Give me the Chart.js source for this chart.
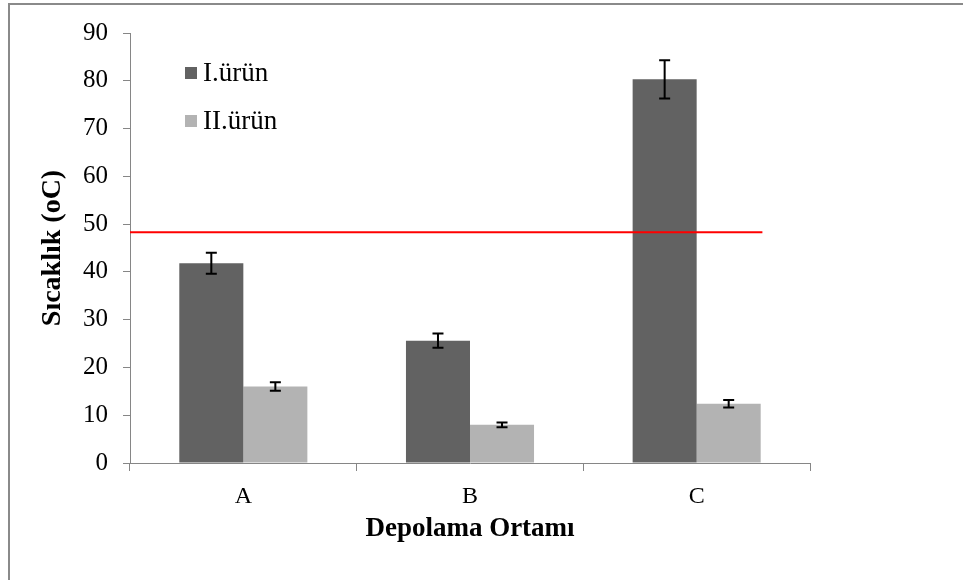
<!DOCTYPE html>
<html>
<head>
<meta charset="utf-8">
<script src="https://cdn.jsdelivr.net/npm/chart.js@4.4.1/dist/chart.umd.min.js"></script>
<style>
    body { margin: 0; background: #fff; }
    #wrap { position: relative; width: 963px; height: 580px; }
    #frame {
        position: absolute; left: 8px; top: 3px; right: 0; bottom: 0;
        border-left: 2px solid #8a8a8a; border-top: 2px solid #8a8a8a;
        pointer-events: none;
    }
</style>
</head>
<body>
<div id="wrap">
    <canvas id="barChart" width="963" height="580"></canvas>
    <div id="frame"></div>
</div>
<script>
// Data
const categories = ['A', 'B', 'C'];
const urun1 = [41.8, 25.6, 80.3];
const urun1Err = [2.2, 1.5, 4.0];
const urun2 = [16.0, 8.0, 12.4];
const urun2Err = [0.9, 0.5, 0.8];
const limitValue = 48.3;          // red reference line
const limitSpan = [-0.5, 2.29];   // in category index units
const yTicks = [0, 10, 20, 30, 40, 50, 60, 70, 80, 90];

const serif = "'Liberation Serif', 'Times New Roman', serif";
const axisGrey = '#868686';

// Red limit line, positioned through the x and y scales
const limitLine = {
    id: 'limitLine',
    afterDatasetsDraw(chart) {
        const ctx = chart.ctx;
        const x = chart.scales.x;
        const yy = chart.scales.y.getPixelForValue(limitValue);
        ctx.save();
        ctx.strokeStyle = '#ff0000';
        ctx.lineWidth = 2;
        ctx.beginPath();
        ctx.moveTo(x.getPixelForValue(limitSpan[0]), yy);
        ctx.lineTo(x.getPixelForValue(limitSpan[1]), yy);
        ctx.stroke();
        ctx.restore();
    }
};

// Error bars, drawn from the bar elements and the y scale
const errorBars = {
    id: 'errorBars',
    afterDatasetsDraw(chart) {
        const ctx = chart.ctx;
        const y = chart.scales.y;
        const errs = [urun1Err, urun2Err];
        ctx.save();
        ctx.strokeStyle = '#000';
        ctx.lineWidth = 2;
        errs.forEach((err, di) => {
            const meta = chart.getDatasetMeta(di);
            const vals = chart.data.datasets[di].data;
            meta.data.forEach((bar, i) => {
                const top = y.getPixelForValue(vals[i] + err[i]);
                const bot = y.getPixelForValue(vals[i] - err[i]);
                ctx.beginPath();
                ctx.moveTo(bar.x, top); ctx.lineTo(bar.x, bot);
                ctx.moveTo(bar.x - 5.5, top); ctx.lineTo(bar.x + 5.5, top);
                ctx.moveTo(bar.x - 5.5, bot); ctx.lineTo(bar.x + 5.5, bot);
                ctx.stroke();
            });
        });
        ctx.restore();
    }
};

// Legend inside the plot area, top left
const innerLegend = {
    id: 'innerLegend',
    afterDraw(chart) {
        const ctx = chart.ctx;
        const area = chart.chartArea;
        ctx.save();
        ctx.font = '27px ' + serif;
        ctx.textBaseline = 'middle';
        chart.data.datasets.forEach((ds, i) => {
            const cy = area.top + 40 + i * 48;
            ctx.fillStyle = ds.backgroundColor;
            ctx.fillRect(area.left + 55, cy - 6, 12, 12);
            ctx.fillStyle = '#000';
            ctx.fillText(ds.label, area.left + 73, cy + 1);
        });
        ctx.restore();
    }
};

let barCtx = document.getElementById('barChart').getContext('2d');
let barChart = new Chart(barCtx, {
    type: 'bar',
    data: {
        labels: categories,
        datasets: [{
            label: 'I.ürün',
            data: urun1,
            backgroundColor: '#626262',
            borderWidth: 0,
        }, {
            label: 'II.ürün',
            data: urun2,
            backgroundColor: '#b3b3b3',
            borderWidth: 0,
        }],
    },
    options: {
        responsive: false,
        animation: false,
        categoryPercentage: 0.565,
        barPercentage: 1.0,
        layout: {
            padding: { top: 33, right: 153, left: 0, bottom: 0 },
        },
        scales: {
            x: {
                grid: {
                    offset: true,
                    drawOnChartArea: false,
                    tickLength: 8,
                    color: axisGrey,
                },
                border: { color: axisGrey, width: 1 },
                ticks: {
                    color: '#000',
                    padding: 11,
                    font: { family: serif, size: 24 },
                },
                title: {
                    display: true,
                    text: 'Depolama Ortamı',
                    color: '#000',
                    font: { family: serif, size: 27, weight: 'bold' },
                    padding: { top: 0, bottom: 35 },
                },
                afterFit(scale) { scale.height = 117; },
            },
            y: {
                min: 0,
                max: 90,
                afterBuildTicks(scale) { scale.ticks = yTicks.map(v => ({ value: v })); },
                grid: {
                    drawOnChartArea: false,
                    tickLength: 7,
                    color: axisGrey,
                },
                border: { color: axisGrey, width: 1 },
                ticks: {
                    color: '#000',
                    padding: 15,
                    font: { family: serif, size: 25 },
                },
                title: {
                    display: true,
                    text: 'Sıcaklık (oC)',
                    color: '#000',
                    font: { family: serif, size: 28, weight: 'bold' },
                    padding: { top: 36, bottom: 0 },
                },
                afterFit(scale) { scale.width = 130; },
            },
        },
        plugins: {
            legend: { display: false },
            tooltip: { enabled: false },
        },
    },
    plugins: [limitLine, errorBars, innerLegend],
});
</script>
</body>
</html>
